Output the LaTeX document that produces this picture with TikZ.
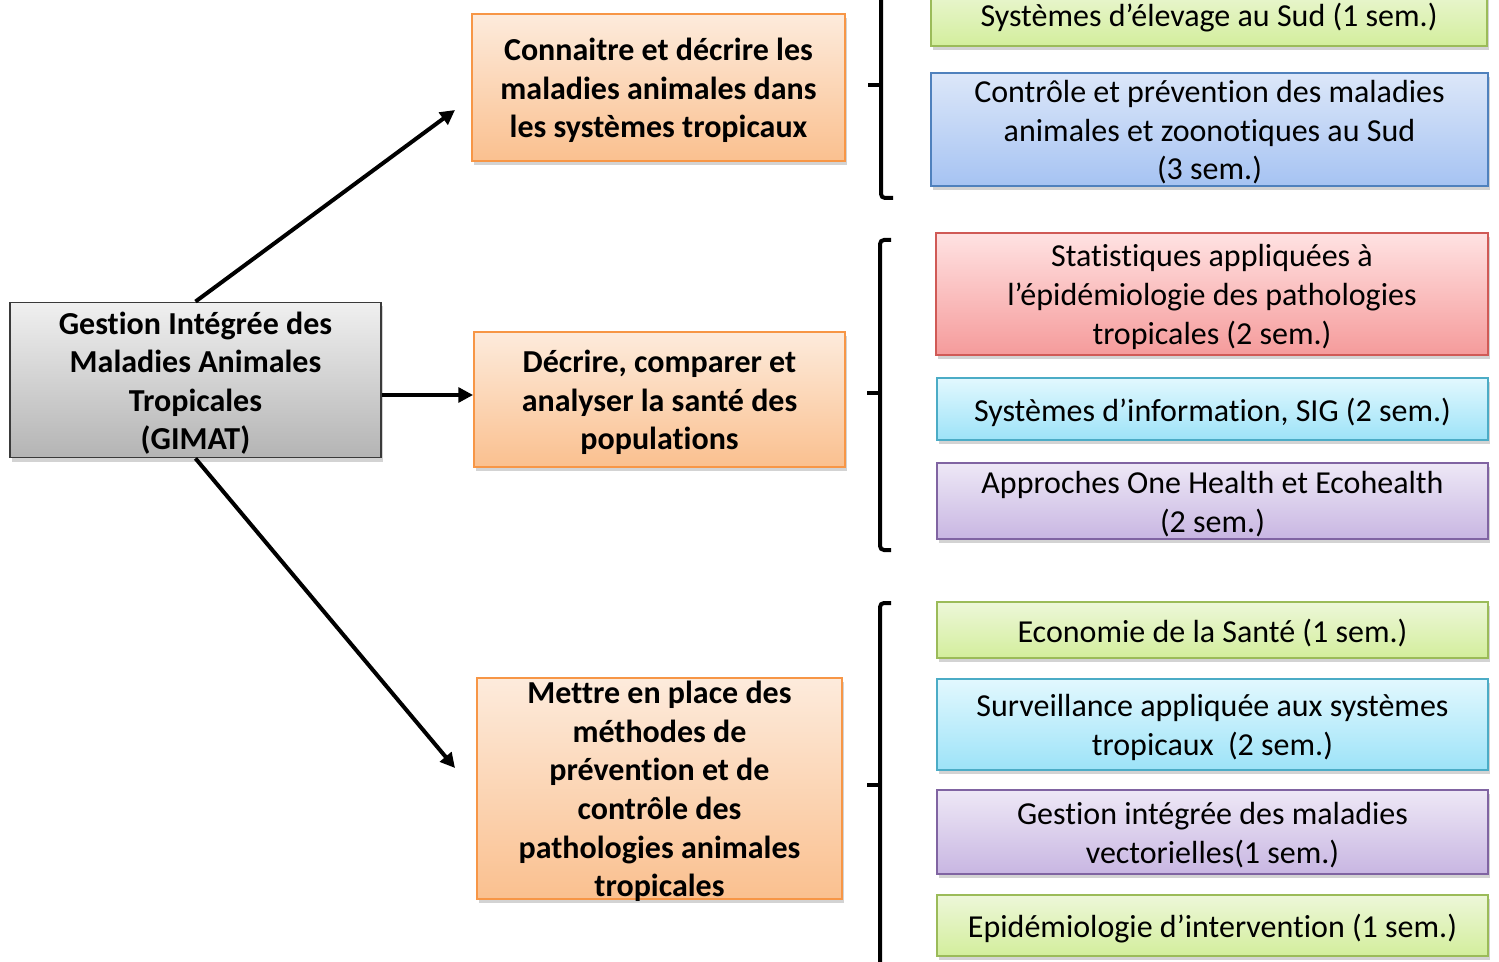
\documentclass[tikz,border=0pt]{standalone}
\usepackage{fontspec}
\setmainfont{Carlito}[RawFeature={-liga;-clig;-calt;-dlig}]
\usetikzlibrary{shadows,arrows.meta}
\definecolor{orT}{HTML}{FDEBDC}\definecolor{orB}{HTML}{FAC08F}\definecolor{orD}{HTML}{F79646}
\definecolor{gyT}{HTML}{F0F0F0}\definecolor{gyB}{HTML}{B4B4B4}\definecolor{gyD}{HTML}{3A3A3A}
\definecolor{grT}{HTML}{EDF7D9}\definecolor{grB}{HTML}{D3EE9C}\definecolor{grD}{HTML}{9BBB59}
\definecolor{blT}{HTML}{DCE7F9}\definecolor{blB}{HTML}{A6C3F2}\definecolor{blD}{HTML}{4F81BD}
\definecolor{rdT}{HTML}{FFE2E2}\definecolor{rdB}{HTML}{F59B9B}\definecolor{rdD}{HTML}{D05A56}
\definecolor{cyT}{HTML}{E2F8FE}\definecolor{cyB}{HTML}{9DE3F8}\definecolor{cyD}{HTML}{4BACC6}
\definecolor{puT}{HTML}{EEE8F6}\definecolor{puB}{HTML}{C8B6E2}\definecolor{puD}{HTML}{8064A2}
% #1 box style, #2 text style, #3 width(pt), #4 height(pt), #5 name, #6 centre, #7 text
\newcommand\boxnode[7]{%
  \node[#1, minimum width=#3pt, minimum height=#4pt] (#5) at (#6) {};
  \node[#2] (#5t) at ([yshift=-2.25pt]#5.center) {#7};}
\begin{document}
\begin{tikzpicture}[x=0.75pt,y=-0.75pt,
  box/.style={draw, line width=1.4pt, rectangle, inner sep=0pt,
    drop shadow={opacity=0.35, shadow xshift=1.5pt, shadow yshift=-3pt}},
  txt/.style={align=center, inner sep=0pt, font=\fontsize{24}{28.9}\selectfont},
  btxt/.style={txt, font=\fontsize{24}{28.9}\selectfont\bfseries},
  orange/.style={box, draw=orD, top color=orT, bottom color=orB},
  grey/.style={box, draw=gyD, top color=gyT, bottom color=gyB},
  green/.style={box, draw=grD, top color=grT, bottom color=grB},
  blue/.style={box, draw=blD, top color=blT, bottom color=blB},
  red/.style={box, draw=rdD, top color=rdT, bottom color=rdB},
  cyan/.style={box, draw=cyD, top color=cyT, bottom color=cyB},
  purple/.style={box, draw=puD, top color=puT, bottom color=puB},
  arr/.style={line width=3pt, -{Triangle[length=11pt,width=11pt]}},
  brace/.style={line width=3pt, rounded corners=3pt}
]
\useasboundingbox (0,0) rectangle (1499,962);

% left boxes
\boxnode{grey}{btxt}{278.25}{116.25}{g}{195.5,380}
  {Gestion Intégrée des\\Maladies Animales\\Tropicales\\(GIMAT)}
\boxnode{orange}{btxt}{279.75}{110.25}{a}{658.5,87.5}
  {Connaitre et décrire les\\maladies animales dans\\les systèmes tropicaux}
\boxnode{orange}{btxt}{278.25}{101.25}{b}{659.5,399.5}
  {Décrire, comparer et\\analyser la santé des\\populations}
\boxnode{orange}{btxt}{273.75}{165.75}{c}{659.5,788.5}
  {Mettre en place des\\méthodes de\\prévention et de\\contrôle des\\pathologies animales\\tropicales}

% right boxes
\boxnode{green}{txt}{417}{46.5}{r1}{1209,15}
  {Systèmes d’élevage au Sud (1 sem.)}
\boxnode{blue}{txt}{417.75}{84.75}{r2}{1209.5,129.5}
  {Contrôle et prévention des maladies\\animales et zoonotiques au Sud\\(3 sem.)}
\boxnode{red}{txt}{414}{91.5}{r3}{1212,294}
  {Statistiques appliquées à\\l’épidémiologie des pathologies\\tropicales (2 sem.)}
\boxnode{cyan}{txt}{413.25}{46.5}{r4}{1212.5,409}
  {Systèmes d’information, SIG (2 sem.)}
\boxnode{purple}{txt}{413.25}{57}{r5}{1212.5,501}
  {Approches One Health et Ecohealth\\(2 sem.)}
\boxnode{green}{txt}{413.25}{42}{r6}{1212.5,630}
  {Economie de la Santé (1 sem.)}
\boxnode{cyan}{txt}{413.25}{68.25}{r7}{1212.5,724.5}
  {Surveillance appliquée aux systèmes\\tropicaux~~(2 sem.)}
\boxnode{purple}{txt}{413.25}{63}{r8}{1212.5,832}
  {Gestion intégrée des maladies\\vectorielles(1 sem.)}
\boxnode{green}{txt}{413.25}{45.75}{r9}{1212.5,925.5}
  {Epidémiologie d’intervention (1 sem.)}

% arrows
\coordinate (ta) at (455,110);
\coordinate (tc) at (455,768);
\draw[arr] (g.north) -- (ta);
\draw[arr] (g.east |- 0,395) -- (b.west |- 0,395);
\draw[arr] (g.south) -- (tc);

% braces
\draw[brace] (881,-20) -- (881,198) -- (893,198);
\draw[line width=3pt] (881,85) -- (868,85);
\draw[brace] (891,240) -- (880,240) -- (880,550) -- (891,550);
\draw[line width=3pt] (880,393) -- (867,393);
\draw[brace] (891,603) -- (880,603) -- (880,980);
\draw[line width=3pt] (880,785) -- (867,785);
\end{tikzpicture}
\end{document}
